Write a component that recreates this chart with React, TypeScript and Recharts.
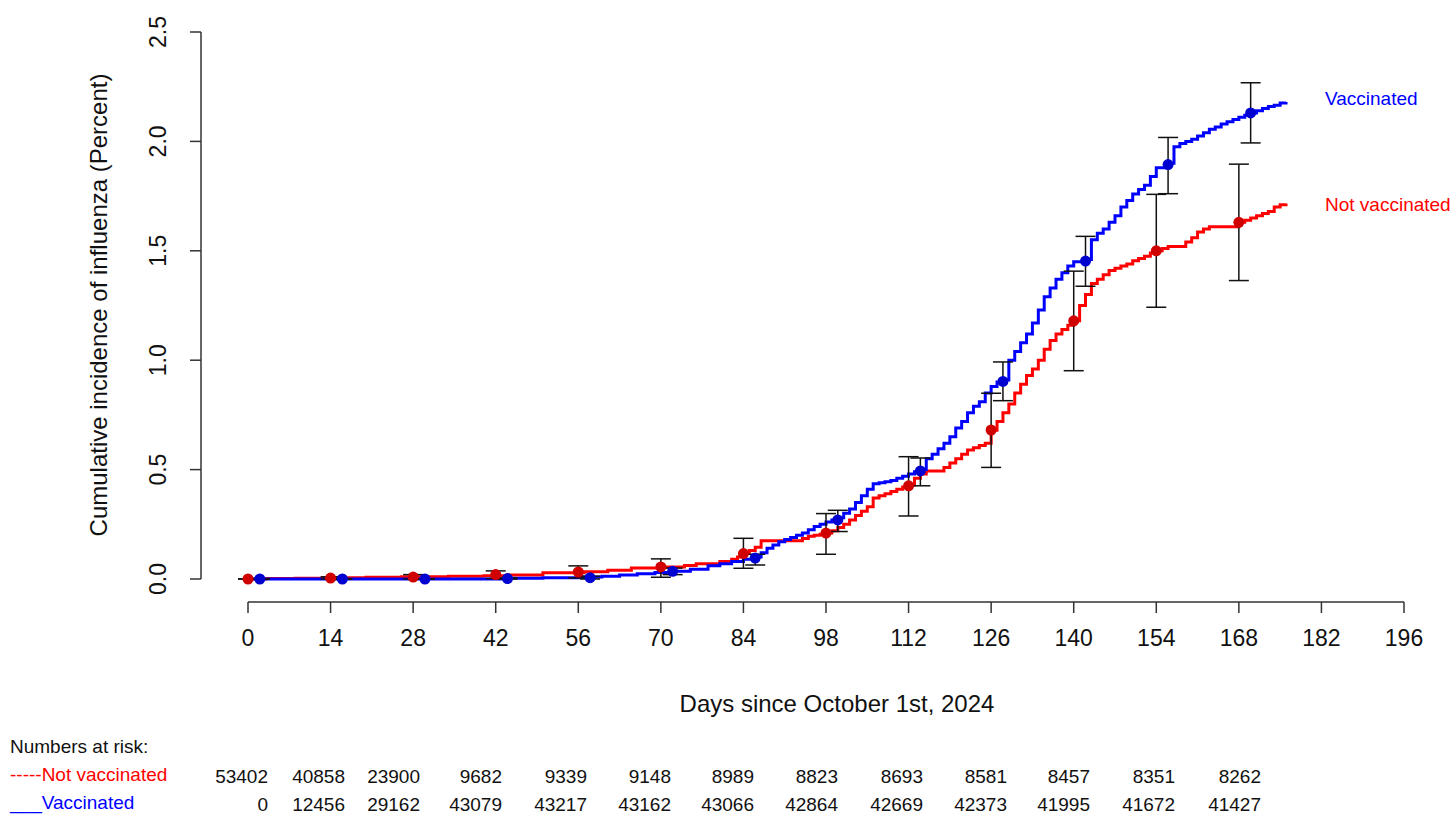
import { ComposedChart, Line, Scatter, ErrorBar, XAxis, YAxis } from 'recharts';

const FONT = '"Liberation Sans", Arial, sans-serif';
const RED = '#ff0000';
const BLUE = '#0000ff';

const xTicks = [0, 14, 28, 42, 56, 70, 84, 98, 112, 126, 140, 154, 168, 182, 196];
const yTicks = [0, 0.5, 1, 1.5, 2, 2.5];

// cumulative incidence (%) step curves: [day, value]
const notVaccinatedSteps: [number, number][] = [
  [0, 0], [3, 0.002], [8, 0.004], [13, 0.006], [20, 0.008], [26, 0.01], [34, 0.012], [40, 0.015],
  [44, 0.018], [50, 0.029], [57, 0.033], [61, 0.04], [65, 0.05], [70, 0.055], [74, 0.062], [76, 0.07],
  [80, 0.08], [82, 0.09], [83, 0.1], [84, 0.116], [85, 0.13], [86, 0.145], [87, 0.175], [94, 0.185],
  [95, 0.195], [96, 0.2], [97, 0.205], [98, 0.21], [99, 0.22], [100, 0.235], [101, 0.25], [102, 0.27],
  [103, 0.29], [104, 0.31], [105, 0.33], [106, 0.37], [107, 0.38], [108, 0.39], [109, 0.4], [110, 0.41],
  [111, 0.42], [112, 0.43], [113, 0.46], [114, 0.48], [115, 0.494], [118, 0.51], [119, 0.53], [120, 0.55],
  [121, 0.57], [122, 0.59], [123, 0.6], [124, 0.61], [125, 0.62], [126, 0.68], [127, 0.72], [128, 0.76],
  [129, 0.8], [130, 0.85], [131, 0.89], [132, 0.93], [133, 0.96], [134, 1.0], [135, 1.05], [136, 1.09],
  [137, 1.12], [138, 1.14], [139, 1.16], [140, 1.18], [141, 1.25], [142, 1.3], [143, 1.35], [144, 1.37],
  [145, 1.39], [146, 1.41], [147, 1.42], [148, 1.43], [149, 1.44], [150, 1.455], [151, 1.465], [152, 1.475],
  [153, 1.49], [154, 1.5], [155, 1.51], [156, 1.52], [159, 1.54], [160, 1.56], [161, 1.586], [162, 1.6],
  [163, 1.61], [168, 1.63], [169, 1.64], [170, 1.65], [171, 1.66], [172, 1.67], [173, 1.68], [174, 1.7],
  [175, 1.71], [176, 1.716],
];

const vaccinatedSteps: [number, number][] = [
  [0, 0], [44, 0.003], [50, 0.006], [56, 0.009], [60, 0.012], [63, 0.018], [66, 0.024], [69, 0.03],
  [72, 0.035], [75, 0.045], [78, 0.06], [80, 0.07], [82, 0.08], [84, 0.09], [86, 0.1], [87, 0.12],
  [88, 0.14], [89, 0.155], [90, 0.17], [91, 0.18], [92, 0.19], [93, 0.2], [94, 0.21], [95, 0.225],
  [96, 0.24], [97, 0.25], [98, 0.26], [99, 0.27], [100, 0.28], [101, 0.3], [102, 0.32], [103, 0.35],
  [104, 0.38], [105, 0.41], [106, 0.435], [107, 0.44], [108, 0.445], [109, 0.45], [110, 0.46], [111, 0.47],
  [112, 0.48], [113, 0.49], [114, 0.5], [115, 0.55], [116, 0.57], [117, 0.595], [118, 0.62], [119, 0.65],
  [120, 0.69], [121, 0.72], [122, 0.76], [123, 0.79], [124, 0.81], [125, 0.85], [126, 0.88], [127, 0.9],
  [128, 0.91], [129, 1.0], [130, 1.04], [131, 1.08], [132, 1.12], [133, 1.17], [134, 1.23], [135, 1.29],
  [136, 1.33], [137, 1.37], [138, 1.4], [139, 1.43], [140, 1.45], [142, 1.46], [143, 1.55], [144, 1.58],
  [145, 1.6], [146, 1.63], [147, 1.66], [148, 1.7], [149, 1.73], [150, 1.76], [151, 1.78], [152, 1.8],
  [153, 1.84], [154, 1.88], [156, 1.9], [157, 1.975], [158, 1.99], [159, 2.0], [160, 2.01], [161, 2.025],
  [162, 2.04], [163, 2.055], [164, 2.066], [165, 2.08], [166, 2.09], [167, 2.1], [168, 2.11], [169, 2.12],
  [170, 2.13], [171, 2.14], [172, 2.15], [173, 2.16], [174, 2.165], [175, 2.175], [176, 2.18],
];

// point estimates with 95% CI: [day, estimate, lower, upper]
const notVaccinatedCI: [number, number, number, number][] = [
  [0, 0, 0, 0], [14, 0.004, 0, 0.01], [28, 0.009, 0, 0.02], [42, 0.02, 0.002, 0.037],
  [56, 0.032, 0.005, 0.06], [70, 0.055, 0.008, 0.092], [84, 0.116, 0.049, 0.186], [98, 0.21, 0.113, 0.299],
  [112, 0.426, 0.288, 0.559], [126, 0.681, 0.51, 0.849], [140, 1.18, 0.952, 1.407], [154, 1.5, 1.242, 1.758],
  [168, 1.63, 1.364, 1.896],
];

const vaccinatedCI: [number, number, number, number][] = [
  [2, 0, 0, 0], [16, 0, 0, 0], [30, 0, 0, 0], [44, 0.002, 0, 0.005],
  [58, 0.006, 0, 0.013], [72, 0.035, 0.02, 0.05], [86, 0.096, 0.064, 0.113], [100, 0.27, 0.217, 0.314],
  [114, 0.494, 0.426, 0.553], [128, 0.903, 0.815, 0.992], [142, 1.453, 1.338, 1.566], [156, 1.894, 1.761, 2.018],
  [170, 2.13, 1.993, 2.268],
];

const riskLabels = ['-----Not vaccinated', '___Vaccinated'];
const notVaccinatedAtRisk = [53402, 40858, 23900, 9682, 9339, 9148, 8989, 8823, 8693, 8581, 8457, 8351, 8262];
const vaccinatedAtRisk = [0, 12456, 29162, 43079, 43217, 43162, 43066, 42864, 42669, 42373, 41995, 41672, 41427];

// right edges of the at-risk table columns (layout)
const tableColRight = [268, 345, 420, 502, 587, 671, 754, 838, 923, 1007, 1090, 1175, 1261];

const toCurve = (steps: [number, number][]) => steps.map(([day, v]) => ({ day, v }));
const toPoints = (rows: [number, number, number, number][]) =>
  rows.map(([day, v, lo, hi]) => ({ day, v, err: [v - lo, hi - v] }));

const notVaxCurve = toCurve(notVaccinatedSteps);
const vaxCurve = toCurve(vaccinatedSteps);
const notVaxPoints = toPoints(notVaccinatedCI);
const vaxPoints = toPoints(vaccinatedCI);

const XTick = (props: any) => {
  const { x, y, payload } = props;
  return (
    <text x={x} y={y + 33} textAnchor="middle" fontSize={23} fontFamily={FONT} fill="#111">
      {payload.value}
    </text>
  );
};

const YTick = (props: any) => {
  const { x, y, payload } = props;
  return (
    <text
      transform={`translate(${x - 24},${y}) rotate(-90)`}
      textAnchor="middle"
      fontSize={23}
      fontFamily={FONT}
      fill="#111"
    >
      {Number(payload.value).toFixed(1)}
    </text>
  );
};

const dotShape = (color: string) => (p: any) => <circle cx={p.cx} cy={p.cy} r={5.5} fill={color} />;

export default function App() {
  return (
    <div style={{ position: 'absolute', left: 0, top: 0, width: 1456, height: 821, background: '#fff' }}>
      <ComposedChart width={1456} height={821} margin={{ top: 32, right: 52, bottom: 0, left: 0 }}>
        <XAxis
          type="number"
          dataKey="day"
          domain={[0, 196]}
          ticks={xTicks}
          interval={0}
          padding={{ left: 47, right: 0 }}
          height={219}
          tickSize={11}
          tickMargin={0}
          tickLine={{ stroke: '#333', strokeWidth: 1.5 }}
          axisLine={{ stroke: '#333', strokeWidth: 1.5, strokeDasharray: '0 47 1156 400' }}
          tick={<XTick />}
        />
        <YAxis
          type="number"
          domain={[0, 2.5]}
          ticks={yTicks}
          interval={0}
          padding={{ top: 0, bottom: 23 }}
          width={201}
          tickSize={11}
          tickMargin={0}
          tickLine={{ stroke: '#333', strokeWidth: 1.5 }}
          axisLine={{ stroke: '#333', strokeWidth: 1.5, strokeDasharray: '547 400' }}
          tick={<YTick />}
        />
        <Line
          data={notVaxCurve}
          dataKey="v"
          type="stepAfter"
          stroke={RED}
          strokeWidth={3}
          dot={false}
          activeDot={false}
          isAnimationActive={false}
        />
        <Line
          data={vaxCurve}
          dataKey="v"
          type="stepAfter"
          stroke={BLUE}
          strokeWidth={3}
          dot={false}
          activeDot={false}
          isAnimationActive={false}
        />
        <Scatter data={notVaxPoints} dataKey="v" shape={dotShape('#d00000')} isAnimationActive={false}>
          <ErrorBar dataKey="err" direction="y" width={10} stroke="#111" strokeWidth={1.5} isAnimationActive={false} />
        </Scatter>
        <Scatter data={vaxPoints} dataKey="v" shape={dotShape('#0000d0')} isAnimationActive={false}>
          <ErrorBar dataKey="err" direction="y" width={10} stroke="#111" strokeWidth={1.5} isAnimationActive={false} />
        </Scatter>
      </ComposedChart>

      <svg
        width={1456}
        height={821}
        style={{ position: 'absolute', left: 0, top: 0, pointerEvents: 'none' }}
        fontFamily={FONT}
      >
        <text x={1325} y={105} fontSize={19} fill={BLUE}>Vaccinated</text>
        <text x={1325} y={211} fontSize={19} fill={RED}>Not vaccinated</text>

        <text x={837} y={712} textAnchor="middle" fontSize={24} fill="#111">
          Days since October 1st, 2024
        </text>
        <text transform="translate(107,305) rotate(-90)" textAnchor="middle" fontSize={24} fill="#111">
          Cumulative incidence of influenza (Percent)
        </text>

        <text x={10} y={753} fontSize={19} fill="#111">Numbers at risk:</text>
        <text x={10} y={781} fontSize={19} fill={RED}>{riskLabels[0]}</text>
        <text x={10} y={809} fontSize={19} fill={BLUE}>{riskLabels[1]}</text>
        {notVaccinatedAtRisk.map((n, i) => (
          <text key={`nv-${i}`} x={tableColRight[i]} y={783} textAnchor="end" fontSize={19} fill="#111">
            {n}
          </text>
        ))}
        {vaccinatedAtRisk.map((n, i) => (
          <text key={`v-${i}`} x={tableColRight[i]} y={811} textAnchor="end" fontSize={19} fill="#111">
            {n}
          </text>
        ))}
      </svg>
    </div>
  );
}
